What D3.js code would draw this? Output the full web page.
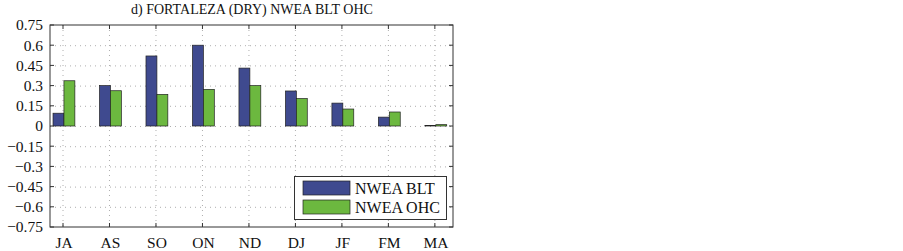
<!DOCTYPE html>
<html><head><meta charset="utf-8">
<script src="https://cdn.jsdelivr.net/npm/d3@7"></script>
<style>body{margin:0;background:#fff}svg{display:block}</style>
</head><body>
<script>
const categories = ["JA","AS","SO","ON","ND","DJ","JF","FM","MA"];
const seriesNames = ["NWEA BLT","NWEA OHC"];
const blt = [0.095,0.30,0.52,0.60,0.43,0.26,0.17,0.066,0.003];
const ohc = [0.336,0.262,0.235,0.272,0.30,0.204,0.126,0.104,0.01];
const yTicks = [-0.75,-0.6,-0.45,-0.3,-0.15,0,0.15,0.3,0.45,0.6,0.75];
const yTickLabels = ["\u22120.75","\u22120.6","\u22120.45","\u22120.3","\u22120.15","0","0.15","0.3","0.45","0.6","0.75"];
const colors = ["#3f4a8f","#6cb83f"];
const title = "d) FORTALEZA (DRY) NWEA BLT OHC";

const W=903,H=251;
const L=50,R=453,T=25,B=227;
const svg=d3.select("body").append("svg").attr("width",W).attr("height",H)
  .style("font-family","'Liberation Serif','Times New Roman',serif");
const x=d3.scaleLinear().domain([0.72,9.39]).range([L,R]);
const y=d3.scaleLinear().domain([-0.75,0.75]).range([B,T]);
const bw=0.235;

// grid
const g=svg.append("g");
g.selectAll(".gy").data(yTicks.slice(1,-1)).enter().append("line")
 .attr("x1",L).attr("x2",R).attr("y1",d=>y(d)+0.5).attr("y2",d=>y(d)+0.5)
 .attr("stroke","#999").attr("stroke-width",0.8).attr("stroke-dasharray","1,4");
g.selectAll(".gx").data(categories).enter().append("line")
 .attr("x1",(d,i)=>x(i+1)).attr("x2",(d,i)=>x(i+1)).attr("y1",T).attr("y2",B)
 .attr("stroke","#999").attr("stroke-width",0.8).attr("stroke-dasharray","1,4");

// bars
const data=[blt,ohc];
data.forEach((arr,s)=>{
  svg.append("g").selectAll("rect").data(arr).enter().append("rect")
   .attr("x",(d,i)=>x(i+1+(s-1)*bw+0.02))
   .attr("width",x(bw)-x(0))
   .attr("y",d=>y(Math.max(d,0)))
   .attr("height",d=>Math.abs(y(d)-y(0)))
   .attr("fill",colors[s]).attr("stroke","#222").attr("stroke-width",0.7);
});

// axes box
svg.append("rect").attr("x",L).attr("y",T).attr("width",R-L).attr("height",B-T)
 .attr("fill","none").attr("stroke","#333").attr("stroke-width",1);
// ticks
const tk=4;
svg.append("g").selectAll("line").data(yTicks).enter().append("line")
 .attr("x1",L).attr("x2",L+tk).attr("y1",d=>y(d)).attr("y2",d=>y(d)).attr("stroke","#333");
svg.append("g").selectAll("line").data(yTicks).enter().append("line")
 .attr("x1",R-tk).attr("x2",R).attr("y1",d=>y(d)).attr("y2",d=>y(d)).attr("stroke","#333");
svg.append("g").selectAll("line").data(categories).enter().append("line")
 .attr("x1",(d,i)=>x(i+1)).attr("x2",(d,i)=>x(i+1)).attr("y1",B).attr("y2",B-tk).attr("stroke","#333");
svg.append("g").selectAll("line").data(categories).enter().append("line")
 .attr("x1",(d,i)=>x(i+1)).attr("x2",(d,i)=>x(i+1)).attr("y1",T).attr("y2",T+tk).attr("stroke","#333");

// labels
svg.append("g").selectAll("text").data(yTicks).enter().append("text")
 .attr("x",L-7).attr("y",d=>y(d)).attr("dy","0.35em").attr("text-anchor","end")
 .attr("font-size",15.5).attr("fill","#111").text((d,i)=>yTickLabels[i]);
svg.append("g").selectAll("text").data(categories).enter().append("text")
 .attr("x",(d,i)=>x(i+1)+1).attr("y",248).attr("text-anchor","middle")
 .attr("font-size",15.5).attr("fill","#111").text(d=>d);
svg.append("text").attr("x",252).attr("y",14).attr("text-anchor","middle")
 .attr("font-size",14).attr("fill","#111").text(title);

// legend
const lg=svg.append("g");
lg.append("rect").attr("x",294.5).attr("y",176.5).attr("width",152).attr("height",43)
 .attr("fill","#fff").attr("stroke","#333");
seriesNames.forEach((n,i)=>{
  lg.append("rect").attr("x",303).attr("y",181+i*19).attr("width",47).attr("height",14)
   .attr("fill",colors[i]).attr("stroke","#222").attr("stroke-width",0.7);
  lg.append("text").attr("x",355).attr("y",188+i*19).attr("dy","0.35em")
   .attr("font-size",16).attr("fill","#111").text(n);
});
</script>
</body></html>
